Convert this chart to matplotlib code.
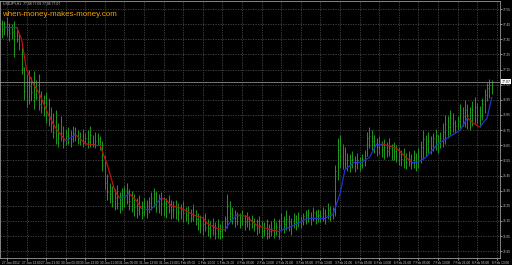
import matplotlib
matplotlib.use("Agg")
import numpy as np
import matplotlib.pyplot as plt
from matplotlib.collections import LineCollection
from matplotlib.transforms import ScaledTranslation

# USDJPY H1 bars, values in pips above 76.00
highs = [148, 147, 150, 146, 145, 147, 142, 139, 130, 117,
         112, 115, 110, 114, 108, 112, 101, 98, 100, 96,
         90, 86, 88, 80, 84, 78, 76, 77, 75, 78,
         77, 75, 74, 76, 73, 75, 78, 72, 74, 73,
         71, 68, 58, 46, 40, 38, 36, 39, 34, 37,
         38, 40, 36, 35, 33, 30, 32, 28, 30, 29,
         31, 34, 37, 35, 33, 34, 31, 30, 32, 29,
         28, 29, 27, 26, 28, 24, 25, 23, 26, 22,
         20, 19, 18, 20, 16, 15, 17, 14, 16, 13,
         15, 18, 33, 28, 24, 22, 21, 20, 22, 19,
         21, 18, 19, 17, 16, 18, 15, 14, 16, 13,
         15, 17, 14, 16, 20, 18, 22, 19, 17, 20,
         19, 21, 18, 20, 22, 23, 21, 24, 22, 23,
         22, 24, 23, 27, 25, 24, 52, 70, 72, 66,
         64, 60, 59, 61, 58, 60, 57, 59, 62, 74,
         77, 75, 72, 70, 71, 68, 69, 67, 70, 66,
         67, 65, 64, 62, 63, 60, 61, 59, 62, 60,
         63, 68, 75, 72, 74, 71, 73, 76, 72, 74,
         80, 85, 84, 88, 86, 82, 84, 92, 90, 95,
         92, 90, 94, 97, 93, 91, 96, 102, 106, 109,
         108]
lows = [136, 138, 137, 134, 135, 123, 133, 128, 112, 95,
        90, 92, 94, 89, 95, 88, 86, 84, 80, 78,
        74, 70, 66, 64, 68, 63, 65, 66, 64, 67,
        68, 66, 65, 64, 66, 63, 64, 64, 63, 65,
        62, 48, 36, 29, 27, 24, 22, 23, 20, 22,
        24, 26, 22, 21, 18, 17, 19, 16, 18, 17,
        20, 22, 24, 21, 20, 19, 18, 17, 20, 16,
        17, 16, 15, 16, 14, 15, 13, 14, 15, 12,
        9, 7, 6, 8, 5, 4, 6, 3, 4, 3,
        4, 8, 10, 14, 13, 11, 12, 10, 12, 9,
        11, 9, 10, 8, 6, 7, 4, 5, 3, 4,
        5, 4, 6, 3, 8, 7, 9, 8, 6, 10,
        9, 11, 10, 12, 13, 14, 12, 15, 13, 14,
        14, 15, 13, 16, 15, 16, 18, 42, 50, 49,
        49, 48, 47, 50, 47, 49, 48, 50, 51, 58,
        63, 62, 60, 58, 59, 57, 56, 57, 58, 55,
        55, 54, 52, 51, 50, 49, 51, 49, 50, 48,
        50, 53, 56, 58, 60, 59, 61, 62, 60, 63,
        64, 66, 70, 72, 74, 73, 75, 76, 78, 77,
        76, 75, 78, 80, 79, 77, 82, 86, 94, 96,
        99]
closes = [142, 143, 141, 139, 140, 137, 138, 131, 116, 101,
          98, 104, 100, 103, 97, 92, 90, 93, 85, 84,
          80, 74, 76, 70, 73, 68, 71, 72, 69, 73,
          72, 70, 69, 68, 70, 67, 72, 66, 68, 69,
          65, 52, 40, 34, 33, 28, 30, 27, 29, 32,
          31, 34, 28, 26, 24, 22, 25, 21, 24, 23,
          27, 30, 33, 28, 30, 26, 27, 24, 26, 22,
          23, 24, 21, 22, 20, 19, 21, 17, 19, 16,
          15, 12, 13, 11, 10, 9, 11, 7, 9, 8,
          11, 16, 25, 20, 19, 17, 18, 15, 17, 14,
          16, 13, 15, 12, 10, 12, 8, 9, 7, 8,
          10, 9, 11, 12, 15, 13, 16, 14, 12, 16,
          14, 17, 15, 18, 19, 20, 17, 21, 18, 19,
          18, 20, 19, 22, 20, 21, 48, 62, 58, 55,
          53, 55, 52, 56, 53, 55, 52, 56, 58, 70,
          71, 68, 65, 64, 66, 62, 64, 61, 63, 60,
          61, 58, 59, 56, 57, 54, 56, 53, 57, 54,
          58, 64, 69, 66, 68, 65, 70, 72, 67, 70,
          74, 79, 77, 83, 80, 78, 81, 86, 84, 88,
          84, 82, 88, 90, 85, 84, 92, 98, 103, 105,
          107]

# smoothed average line (bar index, pips)
ma_idx = [1, 6, 8, 10, 13, 15, 19, 22, 24, 26, 28, 30, 34, 38, 40, 43, 46, 48,
          50, 52, 55, 57, 61, 65, 67, 69, 72, 75, 78, 82, 84, 88, 91, 93, 96,
          100, 104, 106, 110, 113, 119, 125, 129, 132, 135, 138, 140, 144, 147,
          150, 153, 155, 161, 165, 167, 170, 173, 178, 182, 187, 190, 192, 195,
          198, 200]
ma_pips = [143, 143, 135, 115, 105, 100, 85, 76, 72, 68, 70, 72, 66, 65, 65, 52,
           35, 30, 31, 33, 28, 23, 23, 30, 29, 25, 24, 22, 19, 17, 13, 10, 9, 14,
           19, 18, 12, 11, 9, 8, 12, 17, 17, 17, 19, 33, 49, 54, 54, 57, 66, 66,
           63, 57, 54, 54, 57, 66, 70, 75, 83, 80, 77, 83, 97]

time_labels = ['27 Jan 2012', '27 Jan 13:00', '27 Jan 21:00', '30 Jan 05:00',
               '30 Jan 13:00', '30 Jan 21:00', '31 Jan 05:00', '31 Jan 13:00',
               '31 Jan 21:00', '1 Feb 05:00', '1 Feb 13:00', '1 Feb 21:00',
               '2 Feb 05:00', '2 Feb 13:00', '2 Feb 21:00', '3 Feb 05:00',
               '3 Feb 13:00', '3 Feb 21:00', '6 Feb 05:00', '6 Feb 13:00',
               '6 Feb 21:00', '7 Feb 05:00', '7 Feb 13:00', '7 Feb 21:00',
               '8 Feb 05:00', '8 Feb 13:00']
price_ticks = [77.55, 77.45, 77.35, 77.25, 77.15, 77.05, 76.95, 76.85, 76.75,
               76.65, 76.55, 76.45, 76.35, 76.25, 76.15, 76.05, 75.95]

GREEN = '#1c9a1c'
RED = '#c41010'
BLUE = '#2233d0'
GRID = '#484848'
FONT = 'Liberation Sans'

hi = 76 + np.array(highs) / 100
lo = 76 + np.array(lows) / 100
cl = 76 + np.array(closes) / 100
idx = np.arange(len(cl))
ma_x = np.array(ma_idx)
ma_y = 76 + np.array(ma_pips) / 100

fig = plt.figure(figsize=(5.12, 2.65), dpi=100, facecolor='black')
ax = fig.add_axes([0.0, 0.026, 0.9766, 0.97])
ax.set_facecolor('black')

# bars
ax.vlines(idx, lo, hi, color=GREEN, lw=0.7)
ax.hlines(cl, idx, idx + 0.4, color=GREEN, lw=0.6)

# average line, red when falling, blue when rising
pts = np.column_stack([ma_x, ma_y])
segs = np.stack([pts[:-1], pts[1:]], axis=1)
cols = [RED if b < a else BLUE for a, b in zip(ma_y[:-1], ma_y[1:])]
ax.add_collection(LineCollection(segs, colors=cols, linewidths=0.9))

# bid line and price box
last = cl[-1]
ax.axhline(last, color='#8a8a8a', lw=0.6)
ax.text(1.003, last, '%.2f' % last, transform=ax.get_yaxis_transform(),
        fontsize=2.5, color='black', va='center', ha='left', family=FONT,
        bbox=dict(fc='white', ec='none', pad=0.3))

ax.set_xlim(-0.82, 203.3)
ax.set_ylim(75.904, 77.603)

ax.set_xticks([8 * k + 2 for k in range(len(time_labels))])
ax.set_xticklabels(time_labels, family=FONT)
ax.set_yticks(price_ticks)
ax.set_yticklabels(['%.2f' % v for v in price_ticks], family=FONT)
ax.yaxis.tick_right()
ax.tick_params(axis='both', labelsize=2.3, colors='#c8c8c8', length=1.2,
               width=0.5, pad=0.8)
off = ScaledTranslation(-5 / 100, 0, fig.dpi_scale_trans)
for lbl in ax.get_xticklabels():
    lbl.set_horizontalalignment('left')
    lbl.set_transform(lbl.get_transform() + off)

ax.grid(True, color=GRID, ls=(0, (1.5, 1.5)), lw=0.6)
ax.set_axisbelow(True)
for s in ax.spines.values():
    s.set_color('#9a9a9a')
    s.set_linewidth(0.6)

fig.text(0.006, 0.993, 'USDJPY,H1  77.08 77.09 77.06 77.07', fontsize=2.4,
         color='#c8c8c8', va='top', ha='left', family=FONT)
fig.text(0.004, 0.947, 'when-money-makes-money.com', fontsize=5.8,
         color='#f5a000', va='center', ha='left', family=FONT)

fig.savefig('out.png', dpi=100, facecolor='black')
